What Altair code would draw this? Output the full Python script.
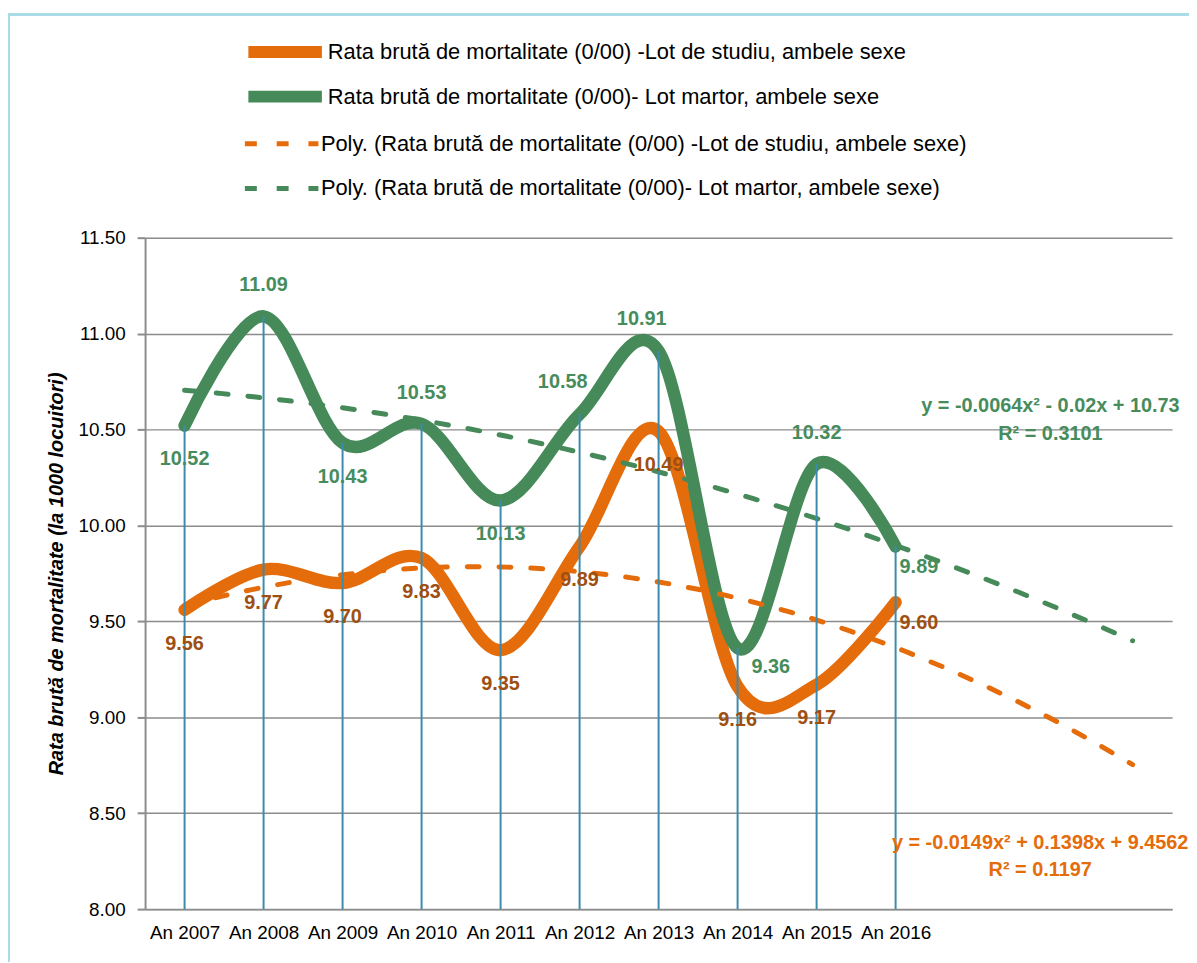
import altair as alt
import pandas as pd

# ---------------- data ----------------
YEARS = ["An 2007", "An 2008", "An 2009", "An 2010", "An 2011",
         "An 2012", "An 2013", "An 2014", "An 2015", "An 2016"]
STUDIU = [9.56, 9.77, 9.70, 9.83, 9.35, 9.89, 10.49, 9.16, 9.17, 9.60]
MARTOR = [10.52, 11.09, 10.43, 10.53, 10.13, 10.58, 10.91, 9.36, 10.32, 9.89]

SERIES = ["Rata brută de mortalitate (0/00) -Lot de studiu, ambele sexe",
          "Rata brută de mortalitate (0/00)- Lot martor, ambele sexe"]
TRENDS = ["Poly. (" + s + ")" for s in SERIES]
KINDS = ["studiu", "martor"]

# label placement codes (not positions of the data)
POS_STUDIU = ["below"] * 9 + ["right"]
POS_MARTOR = ["below", "above", "below", "above", "below",
              "aboveleft", "aboveleft", "farright", "above", "right"]

EQ_TEXT = ["y = -0.0064x² - 0.02x + 10.73", "R² = 0.3101",
           "y = -0.0149x² + 0.1398x + 9.4562", "R² = 0.1197"]
EQ_X = [11.96, 11.96, 11.83, 11.83]
EQ_Y = [10.62, 10.475, 8.345, 8.205]
EQ_SER = ["martor", "martor", "studiu", "studiu"]

Y_TICKS = [8.0, 8.5, 9.0, 9.5, 10.0, 10.5, 11.0, 11.5]

ORANGE = "#E46C0A"
GREEN = "#468A5A"
ORANGE_LBL = "#9E4F12"
GREEN_LBL = "#478C5C"
DROP = "#3B8BAE"
GRID = "#8C8C8C"
FONT = "Liberation Sans, Arial"
DASH = [12, 20]
LINE_COLORS = [ORANGE, GREEN]

# ---------------- tables ----------------
rows = []
for i, yr in enumerate(YEARS):
    rows.append(dict(xi=i + 1, series=SERIES[0], kind="studiu",
                     value=STUDIU[i], pos=POS_STUDIU[i]))
    rows.append(dict(xi=i + 1, series=SERIES[1], kind="martor",
                     value=MARTOR[i], pos=POS_MARTOR[i]))
long = pd.DataFrame(rows)
wide = pd.DataFrame(dict(xi=list(range(1, len(YEARS) + 1)),
                         studiu=STUDIU, martor=MARTOR))
eq = pd.DataFrame(dict(xi=EQ_X, value=EQ_Y, text=EQ_TEXT, kind=EQ_SER))


def make_legend(y, width, dash=None):
    kw = dict(title=None, orient="none", legendX=98, legendY=y,
              direction="vertical", symbolType="stroke", symbolSize=5476,
              symbolStrokeWidth=width, labelFont=FONT, labelFontSize=22,
              labelColor="#000000", labelLimit=0, labelOffset=0)
    if dash:
        kw["symbolDash"] = dash
    return alt.Legend(**kw)


label_expr = "[" + ",".join("'" + y + "'" for y in YEARS) + "][datum.value - 1]"

x_enc = alt.X("xi:Q",
              scale=alt.Scale(domain=[0.5, 13.5], nice=False, zero=False),
              axis=alt.Axis(values=list(range(1, len(YEARS) + 1)),
                            labelExpr=label_expr, ticks=False, grid=False,
                            title=None, labelPadding=15, labelFlush=False,
                            labelOverlap=False))
y_enc = alt.Y("value:Q",
              scale=alt.Scale(domain=[8, 11.5], nice=False, zero=False),
              axis=alt.Axis(values=Y_TICKS, format=".2f", grid=True,
                            tickSize=8, labelPadding=12,
                            title="Rata brută de mortalitate (la 1000 locuitori)",
                            titleFont=FONT, titleFontSize=20,
                            titleFontStyle="italic", titleFontWeight="bold",
                            titleColor="#000000", titlePadding=12))

base_long = alt.Chart(long)

LINE_LEG_Y = [-230, -185]
TREND_LEG_Y = [-134, -89]

# main smoothed lines, one layer (and one legend entry) per series
line_layers = []
for k, kind in enumerate(KINDS):
    enc = dict(x=x_enc, y=y_enc) if k == 0 else dict(x="xi:Q", y="value:Q")
    line_layers.append(
        base_long.transform_filter(alt.datum.kind == kind).mark_line(
            interpolate="cardinal", strokeCap="round", strokeJoin="round",
            strokeWidth=12.5
        ).encode(
            color=alt.Color("series:N",
                            scale=alt.Scale(domain=[SERIES[k]],
                                            range=[LINE_COLORS[k]]),
                            legend=make_legend(LINE_LEG_Y[k], 12)),
            **enc,
        )
    )

# polynomial trend lines computed by the library
trend_layers = []
for k, kind in enumerate(KINDS):
    trend_layers.append(
        base_long.transform_filter(alt.datum.kind == kind).transform_regression(
            "xi", "value", groupby=["series"], method="poly", order=2,
            extent=[1, 13]
        ).transform_calculate(
            trend="'Poly. (' + datum.series + ')'"
        ).mark_line(strokeCap="round", strokeWidth=5, strokeDash=DASH).encode(
            x="xi:Q", y="value:Q",
            color=alt.Color("trend:N",
                            scale=alt.Scale(domain=[TRENDS[k]],
                                            range=[LINE_COLORS[k]]),
                            legend=make_legend(TREND_LEG_Y[k], 5, DASH)),
        )
    )

# drop lines
drops = alt.Chart(wide).transform_calculate(
    top="max(datum.studiu, datum.martor)"
).mark_rule(color=DROP, strokeWidth=2).encode(
    x="xi:Q", y="top:Q", y2=alt.datum(8)
)

PLACE = {
    "above": dict(dx=0, dy=-31, align="center"),
    "aboveleft": dict(dx=-17, dy=-32, align="center"),
    "below": dict(dx=0, dy=34, align="center"),
    "right": dict(dx=4, dy=21, align="left"),
    "farright": dict(dx=14, dy=19, align="left"),
}


def labels(kind, color):
    layers = []
    for p, kw in PLACE.items():
        layers.append(
            base_long.transform_filter(
                (alt.datum.kind == kind) & (alt.datum.pos == p)
            ).mark_text(font=FONT, fontSize=20, fontWeight="bold",
                        color=color, baseline="middle", **kw).encode(
                x="xi:Q", y="value:Q", text=alt.Text("value:Q", format=".2f")
            )
        )
    return layers


eq_layers = [
    alt.Chart(eq).transform_filter(alt.datum.kind == k).mark_text(
        font=FONT, fontSize=20, fontWeight="bold", color=c,
        align="center", baseline="middle"
    ).encode(x="xi:Q", y="value:Q", text="text:N")
    for k, c in [("martor", GREEN_LBL), ("studiu", ORANGE)]
]

# frame decoration (top and left edges of the chart border)
frame_top = alt.Chart(wide).mark_rule(color="#A8DCE6", strokeWidth=2).encode(
    x=alt.value(-138), x2=alt.value(1060), y=alt.value(-225))
frame_left = alt.Chart(wide).mark_rule(color="#A8DCE6", strokeWidth=2).encode(
    x=alt.value(-137), y=alt.value(-225), y2=alt.value(760))

chart = alt.layer(
    *line_layers, frame_top, frame_left, *trend_layers, drops,
    *labels("studiu", ORANGE_LBL), *labels("martor", GREEN_LBL), *eq_layers
).resolve_scale(color="independent").properties(
    width=1034, height=676,
    autosize=alt.AutoSizeParams(type="none"),
    padding={"left": 138, "top": 228, "right": 17, "bottom": 50},
    background="#FFFFFF",
).configure_view(strokeWidth=0).configure_axis(
    labelFont=FONT, labelFontSize=19, labelColor="#000000",
    domainColor=GRID, domainWidth=2, tickColor=GRID, tickWidth=2,
    gridColor=GRID, gridWidth=1.5,
)

chart.save("out.html", embed_options={"renderer": "svg", "actions": False})
